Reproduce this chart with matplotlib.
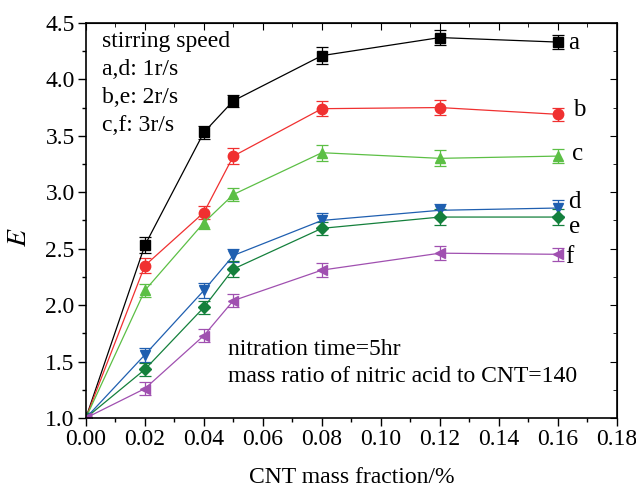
import matplotlib.pyplot as plt
import numpy as np

plt.rcParams['font.family'] = ['Liberation Serif', 'DejaVu Serif']
plt.rcParams['mathtext.fontset'] = 'stix'

x = [0, 0.02, 0.04, 0.05, 0.08, 0.12, 0.16]

# E values
a = [1.0, 2.53, 3.53, 3.81, 4.21, 4.37, 4.33]
b = [1.0, 2.35, 2.82, 3.32, 3.74, 3.75, 3.69]
c = [1.0, 2.13, 2.73, 2.98, 3.35, 3.30, 3.32]
d = [1.0, 1.56, 2.13, 2.44, 2.75, 2.84, 2.86]
e = [1.0, 1.43, 1.98, 2.32, 2.68, 2.78, 2.78]
f = [1.0, 1.26, 1.73, 2.04, 2.31, 2.46, 2.45]

a_err = [0, 0.07, 0.06, 0.055, 0.075, 0.07, 0.06]
b_err = [0, 0.07, 0.06, 0.07, 0.065, 0.07, 0.06]
c_err = [0, 0.06, 0.06, 0.06, 0.07, 0.07, 0.06]
d_err = [0, 0.06, 0.07, 0.06, 0.07, 0.06, 0.07]
e_err = [0, 0.06, 0.06, 0.07, 0.06, 0.07, 0.07]
f_err = [0, 0.06, 0.06, 0.06, 0.06, 0.06, 0.06]

names = ['a', 'b', 'c', 'd', 'e', 'f']
colors = ['#000000', '#f03030', '#5cbf45', '#1f5fb0', '#14803c', '#a050b0']
markers = ['s', 'o', '^', 'v', 'D', '<']
sizes = [6.5, 7.5, 7.5, 7.5, 6.5, 7.5]
label_pos = [(0.1634, 4.32), (0.1651, 3.73), (0.1647, 3.34), (0.1634, 2.91), (0.1637, 2.69), (0.1624, 2.43)]

fig = plt.figure(figsize=(6.36, 4.87), dpi=100)
ax = fig.add_axes([0.135, 0.1417, 0.835, 0.8113])

for ys, err, col, m, ms, nm, lp in zip([a, b, c, d, e, f],
                                       [a_err, b_err, c_err, d_err, e_err, f_err],
                                       colors, markers, sizes, names, label_pos):
    ax.errorbar(x, ys, yerr=err, color=col, marker=m, ms=ms, lw=0.9,
                capsize=4.3, elinewidth=0.9, capthick=0.9)
    ax.text(lp[0], lp[1], nm, fontsize=18, va='center', ha='left')

ax.set_xlim(0, 0.18)
ax.set_ylim(1.0, 4.5)
ax.set_xticks(np.arange(0, 0.181, 0.02))
ax.set_xticks(np.arange(0, 0.181, 0.01), minor=True)
ax.set_yticks(np.arange(1.0, 4.51, 0.5))
ax.set_yticks(np.arange(1.0, 4.51, 0.25), minor=True)
ax.xaxis.set_major_formatter(plt.FormatStrFormatter('%.2f'))
ax.yaxis.set_major_formatter(plt.FormatStrFormatter('%.1f'))
ax.tick_params(which='both', direction='out', labelsize=17, width=1, pad=2)
ax.tick_params(which='major', length=6)
ax.tick_params(which='minor', length=3)
for s in ax.spines.values():
    s.set_linewidth(1.2)

# mirrored ticks on top and right
sx = ax.secondary_xaxis('top')
sx.set_xticks(np.arange(0, 0.181, 0.02))
sx.set_xticks(np.arange(0, 0.181, 0.01), minor=True)
sx.tick_params(which='both', direction='in', labeltop=False)
sx.tick_params(which='major', length=5)
sx.tick_params(which='minor', length=3)
sy = ax.secondary_yaxis('right')
sy.set_yticks(np.arange(1.0, 4.51, 0.5))
sy.set_yticks(np.arange(1.0, 4.51, 0.25), minor=True)
sy.tick_params(which='both', direction='in', labelright=False)
sy.tick_params(which='major', length=5)
sy.tick_params(which='minor', length=3)

ax.set_xlabel('CNT mass fraction/%', fontsize=17, labelpad=12)
ax.set_ylabel('$E$', fontsize=20)
ax.yaxis.set_label_coords(-0.102, 0.458)

ax.text(0.0054, 4.425, 'stirring speed\na,d: 1r/s\nb,e: 2r/s\nc,f: 3r/s',
        fontsize=17, va='top', ha='left', linespacing=1.42)
ax.text(0.0481, 1.70, 'nitration time=5hr\nmass ratio of nitric acid to CNT=140',
        fontsize=17, va='top', ha='left', linespacing=1.38)

fig.savefig('out.png', dpi=100)
